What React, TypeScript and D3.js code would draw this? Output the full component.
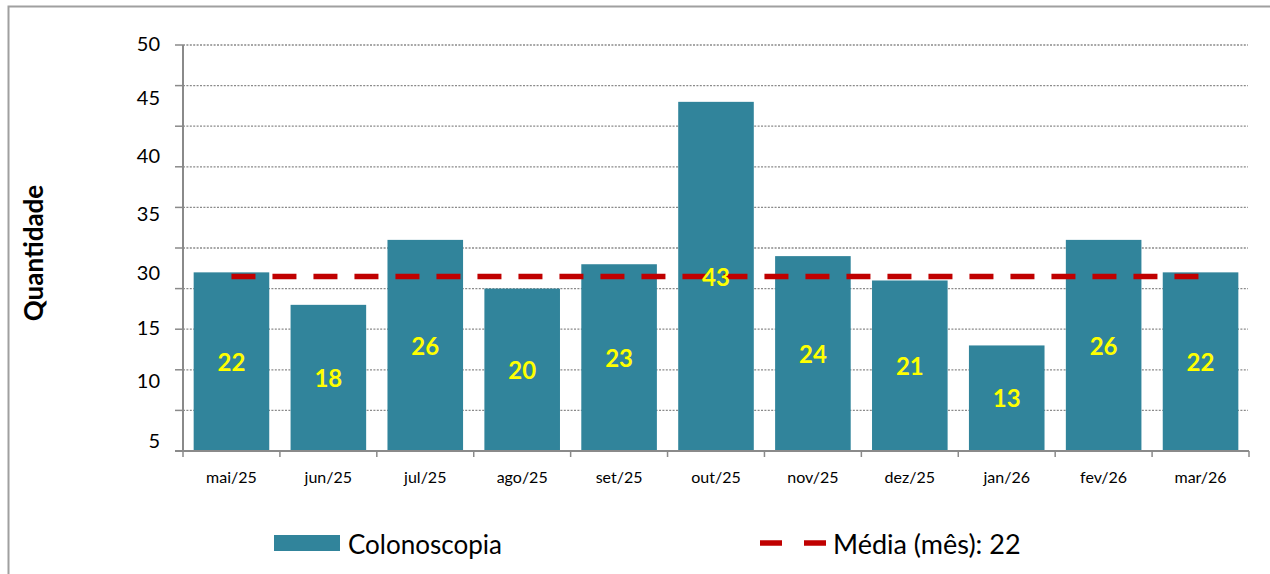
import React, { useEffect, useRef } from 'react';
import * as d3 from 'd3';

const months = ['mai/25', 'jun/25', 'jul/25', 'ago/25', 'set/25', 'out/25', 'nov/25', 'dez/25', 'jan/26', 'fev/26', 'mar/26'];
const colonoscopia = [22, 18, 26, 20, 23, 43, 24, 21, 13, 26, 22];
const mediaLine = 21.5;
const mediaLabel = 'Média (mês): 22';
// the tick labels in the source sit off the gridlines, so each has its own value
const yTickLabels = ['50', '45', '40', '35', '30', '15', '10', '5'];
const yTickAt = [49.9, 43.2, 36.1, 28.9, 21.7, 14.9, 8.4, 1.0];

const FONT = 'Lato, "Noto Sans", sans-serif';

const App = () => {
  const svgRef = useRef<SVGSVGElement>(null);

  useEffect(() => {
    const svg = d3.select(svgRef.current);
    svg.selectAll('*').remove();

    const left = 183, right = 1249, top = 45, bottom = 451;

    const x = d3.scaleBand<string>()
      .domain(months)
      .range([left, right])
      .paddingInner(0.22)
      .paddingOuter(0.11);

    const y = d3.scaleLinear().domain([0, 50]).range([bottom, top]);

    // frame
    svg.append('rect')
      .attr('x', 8.5).attr('y', 6.5)
      .attr('width', 1275).attr('height', 600)
      .attr('fill', 'white')
      .attr('stroke', '#a0a0a0').attr('stroke-width', 2);

    // gridlines
    svg.append('g')
      .selectAll('line')
      .data(y.ticks(10).filter(d => d > 0))
      .enter().append('line')
      .attr('x1', left).attr('x2', 1248)
      .attr('y1', d => y(d)).attr('y2', d => y(d))
      .attr('stroke', '#8a8a8a')
      .attr('stroke-width', 1.3)
      .attr('stroke-dasharray', '2,1.4');

    // y ticks
    svg.append('g')
      .selectAll('line')
      .data(y.ticks(10))
      .enter().append('line')
      .attr('x1', left - 8).attr('x2', left)
      .attr('y1', d => y(d)).attr('y2', d => y(d))
      .attr('stroke', '#8a8a8a')
      .attr('stroke-width', 1.5);

    // bars
    svg.append('g')
      .selectAll('rect')
      .data(colonoscopia)
      .enter().append('rect')
      .attr('x', (d, i) => x(months[i])!)
      .attr('y', d => y(d))
      .attr('width', x.bandwidth())
      .attr('height', d => bottom - y(d))
      .attr('fill', '#31849b');

    // media line
    svg.append('line')
      .attr('x1', x(months[0])! + x.bandwidth() / 2)
      .attr('x2', x(months[months.length - 1])! + x.bandwidth() / 2)
      .attr('y1', y(mediaLine)).attr('y2', y(mediaLine))
      .attr('stroke', '#c00000')
      .attr('stroke-width', 5.5)
      .attr('stroke-dasharray', '24,17');

    // value labels
    svg.append('g')
      .selectAll('text')
      .data(colonoscopia)
      .enter().append('text')
      .attr('x', (d, i) => x(months[i])! + x.bandwidth() / 2)
      .attr('y', d => (y(d) + bottom) / 2 + 3)
      .attr('text-anchor', 'middle')
      .attr('dominant-baseline', 'middle')
      .attr('fill', '#ffff00')
      .attr('font-family', FONT)
      .attr('font-weight', 'bold')
      .attr('font-size', 24)
      .text(d => d);

    // axes lines
    svg.append('line')
      .attr('x1', left).attr('x2', left)
      .attr('y1', top).attr('y2', bottom)
      .attr('stroke', '#8a8a8a').attr('stroke-width', 2);
    svg.append('line')
      .attr('x1', left - 8).attr('x2', right)
      .attr('y1', bottom).attr('y2', bottom)
      .attr('stroke', '#8a8a8a').attr('stroke-width', 2);

    // x ticks at category boundaries
    const step = x.step();
    svg.append('g')
      .selectAll('line')
      .data(d3.range(months.length + 1))
      .enter().append('line')
      .attr('x1', i => left + i * step).attr('x2', i => left + i * step)
      .attr('y1', bottom).attr('y2', bottom + 6)
      .attr('stroke', '#8a8a8a').attr('stroke-width', 1.5);

    // x labels
    svg.append('g')
      .selectAll('text')
      .data(months)
      .enter().append('text')
      .attr('x', d => x(d)! + x.bandwidth() / 2)
      .attr('y', 483)
      .attr('text-anchor', 'middle')
      .attr('font-family', FONT)
      .attr('font-size', 16)
      .attr('fill', '#000')
      .text(d => d);

    // y labels
    svg.append('g')
      .selectAll('text')
      .data(yTickLabels)
      .enter().append('text')
      .attr('x', 160)
      .attr('y', (d, i) => y(yTickAt[i]))
      .attr('text-anchor', 'end')
      .attr('dominant-baseline', 'middle')
      .attr('font-family', FONT)
      .attr('font-size', 20)
      .attr('fill', '#000')
      .text(d => d);

    // y title
    svg.append('text')
      .attr('transform', 'translate(43,253) rotate(-90)')
      .attr('text-anchor', 'middle')
      .attr('font-family', FONT)
      .attr('font-weight', 'bold')
      .attr('font-size', 26)
      .attr('fill', '#000')
      .text('Quantidade');

    // legend
    const legend = svg.append('g');
    legend.append('rect')
      .attr('x', 274).attr('y', 535)
      .attr('width', 66).attr('height', 16)
      .attr('fill', '#31849b');
    legend.append('text')
      .attr('x', 348).attr('y', 554)
      .attr('font-family', FONT)
      .attr('font-size', 26)
      .attr('fill', '#000')
      .text('Colonoscopia');
    legend.append('line')
      .attr('x1', 760).attr('x2', 826)
      .attr('y1', 543).attr('y2', 543)
      .attr('stroke', '#c00000')
      .attr('stroke-width', 5.5)
      .attr('stroke-dasharray', '22,22');
    legend.append('text')
      .attr('x', 833).attr('y', 554)
      .attr('font-family', FONT)
      .attr('font-size', 27)
      .attr('fill', '#000')
      .text(mediaLabel);
  }, []);

  return (
    <svg
      ref={svgRef}
      width={1270}
      height={574}
      style={{ position: 'absolute', left: 0, top: 0, background: 'white' }}
    />
  );
};

export default App;
